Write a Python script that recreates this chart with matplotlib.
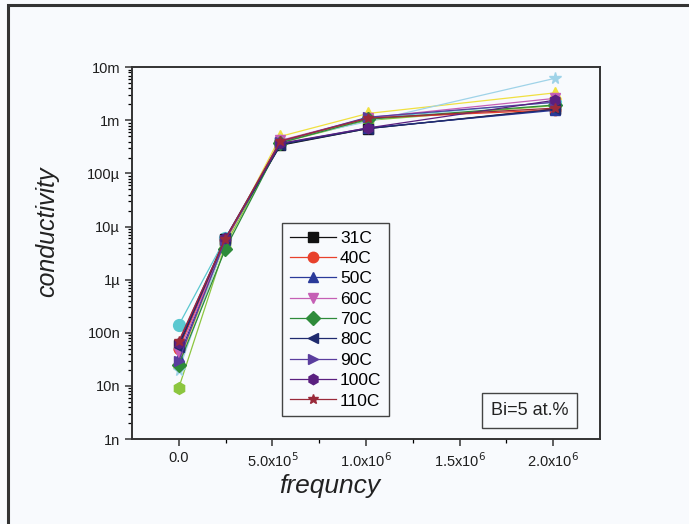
import matplotlib
matplotlib.use('Agg')
import matplotlib.pyplot as plt
from matplotlib.patches import Rectangle

plt.rcParams['font.family'] = ['Liberation Sans', 'DejaVu Sans']

# frequency points (Hz)
freq = [0.0, 2.49e5, 5.43e5, 1.01e6, 2.01e6]

# conductivity per temperature
labels = ['31C', '40C', '50C', '60C', '70C', '80C', '90C', '100C', '110C']
c31 = [60e-9, 5.8e-6, 0.34e-3, 0.70e-3, 1.65e-3]
c40 = [50e-9, 5.5e-6, 0.40e-3, 1.10e-3, 1.58e-3]
c50 = [35e-9, 5.6e-6, 0.36e-3, 0.72e-3, 1.55e-3]
c60 = [42e-9, 5.4e-6, 0.42e-3, 1.12e-3, 2.60e-3]
c70 = [25e-9, 3.8e-6, 0.38e-3, 1.05e-3, 1.95e-3]
c80 = [55e-9, 6.0e-6, 0.35e-3, 0.70e-3, 1.62e-3]
c90 = [30e-9, 5.7e-6, 0.40e-3, 1.15e-3, 2.20e-3]
c100 = [65e-9, 6.1e-6, 0.37e-3, 0.72e-3, 2.40e-3]
c110 = [70e-9, 5.9e-6, 0.41e-3, 1.10e-3, 1.70e-3]
# extra runs shown without legend entry
x1 = [140e-9, 6.0e-6, 0.40e-3, 1.10e-3, 2.20e-3]
x2 = [28e-9, 5.0e-6, 0.50e-3, 1.35e-3, 3.30e-3]
x3 = [9.2e-9, 4.5e-6, 0.38e-3, 1.00e-3, 1.90e-3]
x4 = [20e-9, 5.5e-6, 0.42e-3, 0.95e-3, 6.20e-3]

series = [c31, c40, c50, c60, c70, c80, c90, c100, c110]
colors = ['#111111', '#e8412c', '#2a3a9a', '#c55fb5', '#2e8b3a',
          '#1f2a6e', '#5a3d9e', '#5a2080', '#9a2a3a']
markers = ['s', 'o', '^', 'v', 'D', '<', '>', 'h', '*']
extra = [x1, x2, x3, x4]
extra_colors = ['#5bc8d0', '#f0e040', '#8cc63f', '#9fd3e8']
extra_markers = ['o', '^', 'h', '*']

ytick_vals = [1e-9, 1e-8, 1e-7, 1e-6, 1e-5, 1e-4, 1e-3, 1e-2]
ytick_labels = ['1n', '10n', '100n', '1\u00b5', '10\u00b5', '100\u00b5', '1m', '10m']
xtick_vals = [0, 5e5, 1e6, 1.5e6, 2e6]
xtick_labels = ['0.0', r'5.0x10$^5$', r'1.0x10$^6$', r'1.5x10$^6$', r'2.0x10$^6$']

bg = '#f8fafd'
fig = plt.figure(figsize=(6.89, 5.24), dpi=100, facecolor=bg)
ax = fig.add_axes([0.1916, 0.1622, 0.6792, 0.7094], facecolor=bg)

# unlabeled runs first so the legend series sit on top
for vals, col, mk in zip(extra, extra_colors, extra_markers):
    ax.plot(freq, vals, color=col, marker=mk, markersize=8.5, linewidth=0.9)
for vals, lab, col, mk in zip(series, labels, colors, markers):
    ax.plot(freq, vals, color=col, marker=mk, markersize=7.5, linewidth=0.9, label=lab)

ax.set_yscale('log')
ax.set_ylim(1e-9, 1e-2)
ax.set_xlim(-2.5e5, 2.25e6)
ax.set_yticks(ytick_vals)
ax.set_yticklabels(ytick_labels)
ax.set_xticks(xtick_vals)
ax.set_xticklabels(xtick_labels)
ax.set_xticks([2.5e5, 7.5e5, 1.25e6, 1.75e6], minor=True)

ax.tick_params(which='major', direction='out', length=5, width=1.1, labelsize=10.5,
               colors='#333333', labelcolor='#1e1e1e', top=False, right=False)
ax.tick_params(which='minor', direction='out', length=3, width=0.9,
               top=False, right=False)
for sp in ax.spines.values():
    sp.set_linewidth(1.4)
    sp.set_color('#333333')

ax.set_xlabel('frequncy', fontsize=19, style='italic', color='#222222')
ax.set_ylabel('conductivity', fontsize=18, style='italic', color='#222222')
ax.xaxis.set_label_coords(0.423, -0.095)
ax.yaxis.set_label_coords(-0.156, 0.557)

leg = ax.legend(loc='upper left', bbox_to_anchor=(0.32, 0.582), borderaxespad=0,
                fontsize=12.5, handlelength=2.7, handletextpad=0.2,
                labelspacing=0.3, fancybox=False, edgecolor='#444444',
                framealpha=1, facecolor=bg, borderpad=0.45)
leg.get_frame().set_linewidth(1.0)

ax.text(0.932, 0.054, 'Bi=5 at.%', transform=ax.transAxes, ha='right', va='bottom',
        fontsize=13, color='#222222',
        bbox=dict(boxstyle='square,pad=0.5', facecolor=bg, edgecolor='#444444',
                  linewidth=1.0))

# outer frame around the figure
fig.patches.append(Rectangle((8 / 689, -0.05), 1.1, 1 - 5 / 524 + 0.05,
                             transform=fig.transFigure, fill=False,
                             edgecolor='#333333', linewidth=2.2))

fig.savefig('out.png', dpi=100, facecolor=bg)
